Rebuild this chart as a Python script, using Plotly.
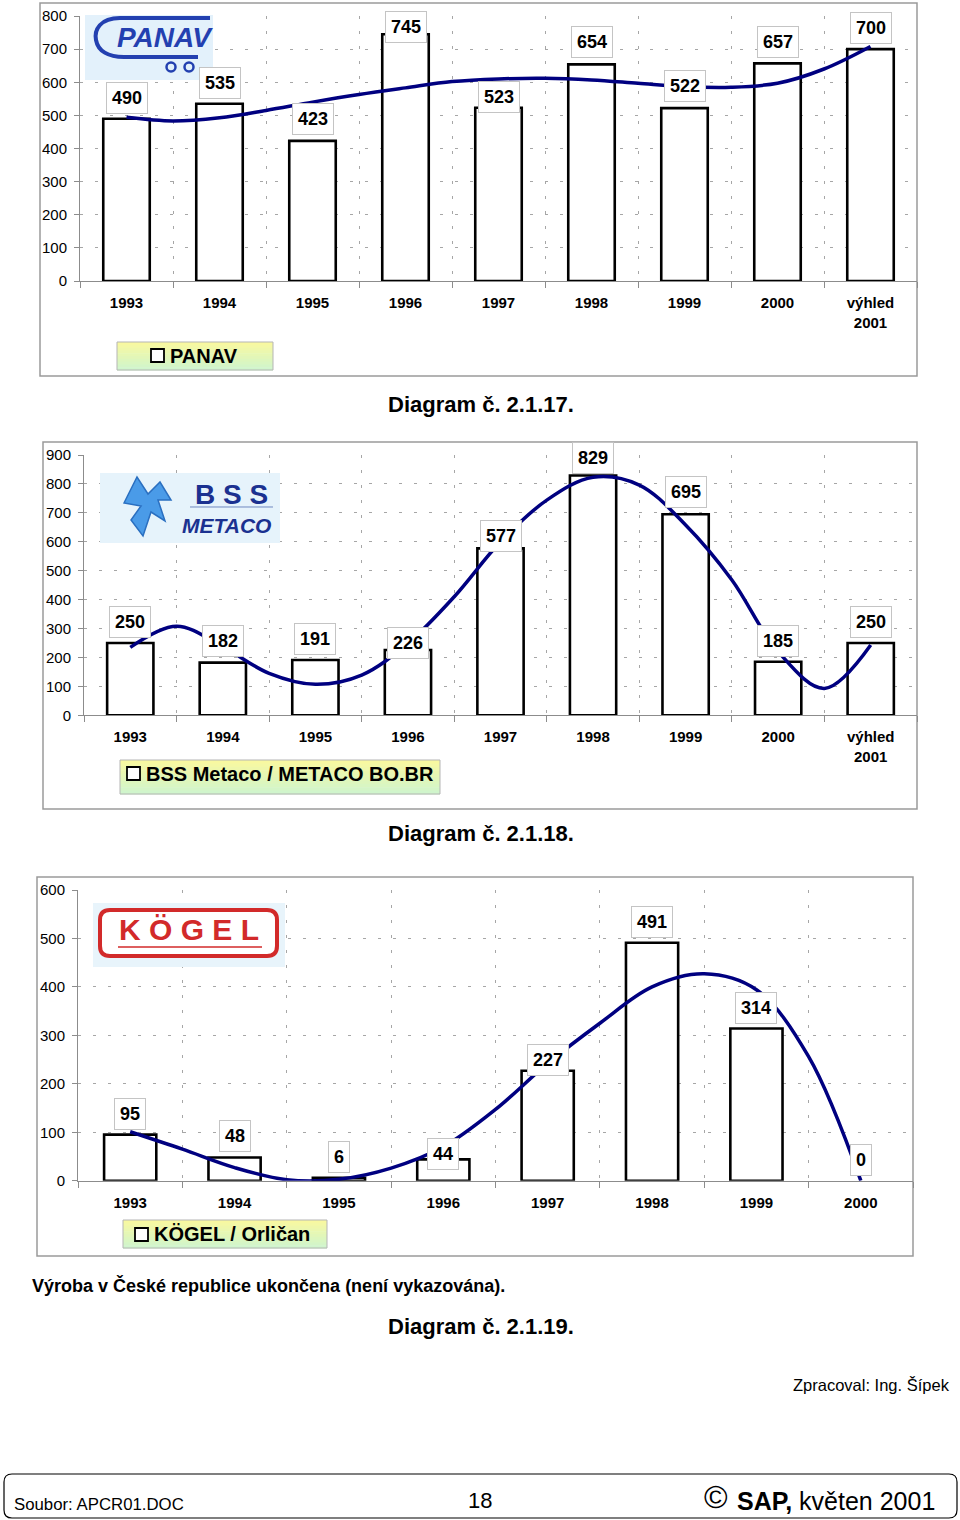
import plotly.graph_objects as go

W, H = 960, 1520
F = "Liberation Sans, Arial, sans-serif"
NARROW = "Liberation Sans Narrow, Arial Narrow, Liberation Sans, Arial, sans-serif"

# ---------------- data ----------------
years_a = ["1993", "1994", "1995", "1996", "1997", "1998", "1999", "2000", "výhled<br>2001"]
years_c = ["1993", "1994", "1995", "1996", "1997", "1998", "1999", "2000"]

panav = [490, 535, 423, 745, 523, 654, 522, 657, 700]
# polynomial trend line (every half category)
panav_trend = [494, 483, 493, 515, 540, 563, 583, 602, 610, 612, 607, 597, 587, 585, 597, 640, 708]

bss = [250, 182, 191, 226, 577, 829, 695, 185, 250]
bss_trend = [235, 308, 237, 145, 107, 139, 249, 410, 600, 744, 823, 796, 658, 468, 220, 93, 243]

kogel = [95, 48, 6, 44, 227, 491, 314, 0]
kogel_trend = [101, 65, 27, 2, 3, 26, 70, 147, 242, 325, 400, 427, 394, 256, 0]

series_names = ["PANAV", "BSS Metaco / METACO BO.BR", "KÖGEL / Orličan"]
captions = ["Diagram č. 2.1.17.", "Diagram č. 2.1.18.", "Diagram č. 2.1.19."]

# ---------------- helpers ----------------
def fx(x):
    return x / W


def fy(y):
    return 1 - y / H


def rect(x0, y0, x1, y1, **kw):
    d = dict(type="rect", xref="paper", yref="paper",
             x0=fx(x0), x1=fx(x1), y0=fy(y1), y1=fy(y0))
    d.update(kw)
    return d


def path(cmds, **kw):
    parts = []
    for c in cmds:
        if isinstance(c, str):
            parts.append(c)
        else:
            parts.append(f"{fx(c[0]):.5f},{fy(c[1]):.5f}")
    d = dict(type="path", xref="paper", yref="paper", path=" ".join(parts))
    d.update(kw)
    return d


def rounded(x0, y0, x1, y1, r, **kw):
    cmds = ["M", (x0 + r, y0), "L", (x1 - r, y0), "Q", (x1, y0), (x1, y0 + r),
            "L", (x1, y1 - r), "Q", (x1, y1), (x1 - r, y1), "L", (x0 + r, y1),
            "Q", (x0, y1), (x0, y1 - r), "L", (x0, y0 + r), "Q", (x0, y0), (x0 + r, y0), "Z"]
    return path(cmds, **kw)


def text(x, y, s, size, xanchor="center", bold=False, color="black", family=F, **kw):
    d = dict(x=fx(x), y=fy(y), xref="paper", yref="paper", text=s, showarrow=False,
             xanchor=xanchor, yanchor="middle",
             font=dict(size=size, color=color, family=family, weight="bold" if bold else "normal"))
    d.update(kw)
    return d


panels = [
    dict(cats=years_a, vals=panav, trend=panav_trend, ymax=800,
         dx=(80, 917), dy=(16, 281),
         shifts=[21, 21, 22, 7, 11, 22, 22, 21, 21],
         box=(40, 3, 917, 376),
         leg=(117, 342, 273, 370), key=(151, 349, 164, 362), leg_tx=168, leg_ty=356,
         cap_y=404),
    dict(cats=years_a, vals=bss, trend=bss_trend, ymax=900,
         dx=(84, 917), dy=(455, 715.3),
         shifts=[21, 22, 21, 7, 12, 18, 22, 21, 21],
         box=(43, 442, 917, 809),
         leg=(120, 760, 440, 794), key=(127, 767, 140, 780), leg_tx=144, leg_ty=774,
         cap_y=833),
    dict(cats=years_c, vals=kogel, trend=kogel_trend, ymax=600,
         dx=(78, 913), dy=(890, 1180.7),
         shifts=[21, 21, 21, 5, 11, 21, 21, 21],
         box=(37, 877, 913, 1256),
         leg=(123, 1220, 327, 1248), key=(135, 1228, 148, 1241), leg_tx=152, leg_ty=1234,
         cap_y=1326),
]

fig = go.Figure()
shapes = []
annotations = []
layout = dict(width=W, height=H,
              margin=dict(l=0, r=0, t=0, b=0, pad=0, autoexpand=False),
              paper_bgcolor="white", plot_bgcolor="white", showlegend=False,
              font=dict(family=F, color="black"))

GRID = "#a6a6a6"
for k, p in enumerate(panels):
    idx = "" if k == 0 else str(k + 1)
    xn, yn = "x" + idx, "y" + idx
    n = len(p["cats"])
    bx0, by0, bx1, by1 = p["box"]
    shapes.append(rect(bx0, by0, bx1, by1, line=dict(color="#9a9a9a", width=1.5),
                       fillcolor="rgba(0,0,0,0)", layer="below"))

    layout["xaxis" + idx] = dict(
        domain=[fx(p["dx"][0]), fx(p["dx"][1])], anchor=yn,
        range=[-0.5, n - 0.5], tickmode="array", tickvals=list(range(n)),
        ticktext=p["cats"], ticks="", showgrid=False, zeroline=False,
        showline=True, linecolor="#8c8c8c", linewidth=1, automargin=False,
        tickfont=dict(size=15, family=F, color="black", weight="bold"),
        ticklabelstandoff=8,
        minor=dict(tickmode="array", tickvals=[i - 0.5 for i in range(n + 1)],
                   ticks="outside", ticklen=6, tickcolor="#8c8c8c", tickwidth=1,
                   showgrid=True, gridcolor=GRID, griddash="3px,12px", gridwidth=1),
        fixedrange=True)
    layout["yaxis" + idx] = dict(
        domain=[fy(p["dy"][1]), fy(p["dy"][0])], anchor=xn,
        range=[0, p["ymax"]], tick0=0, dtick=100, showgrid=True, gridcolor=GRID,
        griddash="3px,12px", gridwidth=1, zeroline=False, showline=True,
        linecolor="#8c8c8c", linewidth=1, ticks="outside", ticklen=5, automargin=False,
        tickcolor="#8c8c8c", tickfont=dict(size=15, family=F, color="black"),
        ticklabelstandoff=4, fixedrange=True)

    fig.add_trace(go.Bar(x=list(range(n)), y=p["vals"], width=0.5, xaxis=xn, yaxis=yn,
                         marker=dict(color="white",
                                     line=dict(color="black",
                                               width=[2.6 if v > 0 else 0 for v in p["vals"]])),
                         name=series_names[k], hoverinfo="skip"))
    fig.add_trace(go.Scatter(x=[j * 0.5 for j in range(len(p["trend"]))], y=p["trend"],
                             xaxis=xn, yaxis=yn, mode="lines",
                             line=dict(color="#000080", width=3.5, shape="spline", smoothing=1.0),
                             hoverinfo="skip", name="trend"))

    for i, v in enumerate(p["vals"]):
        annotations.append(dict(x=i, y=v, xref=xn, yref=yn, text=str(v), showarrow=False,
                                xanchor="center", yanchor="middle", yshift=p["shifts"][i],
                                font=dict(size=18, color="black", family=F, weight="bold"),
                                bgcolor="white", bordercolor="#c4c4c4", borderwidth=1,
                                borderpad=5))

    # legend box with yellow-green gradient
    lx0, ly0, lx1, ly1 = p["leg"]
    nb = 10
    c0, c1 = (248, 248, 160), (208, 245, 204)
    for b in range(nb):
        t = b / (nb - 1)
        col = tuple(round(c0[j] + (c1[j] - c0[j]) * t) for j in range(3))
        hb = (ly1 - ly0) / nb
        shapes.append(rect(lx0, ly0 + b * hb, lx1, ly0 + (b + 1) * hb + 0.6,
                           fillcolor=f"rgb{col}", line=dict(width=0), layer="above"))
    shapes.append(rect(lx0, ly0, lx1, ly1, fillcolor="rgba(0,0,0,0)",
                       line=dict(color="#b5b5b5", width=1), layer="above"))
    kx0, ky0, kx1, ky1 = p["key"]
    shapes.append(rect(kx0, ky0, kx1, ky1, fillcolor="white",
                       line=dict(color="black", width=1.8), layer="above"))
    annotations.append(text(p["leg_tx"], p["leg_ty"], series_names[k], 20,
                            xanchor="left", bold=True))
    annotations.append(text(481, p["cap_y"], captions[k], 22, bold=True))

# ---------------- logos ----------------
BLUE = "#2340b0"
# PANAV
shapes.append(rect(85, 15, 213, 80, fillcolor="#e3f1fb", line=dict(width=0), layer="above"))
shapes.append(path(["M", (210, 18), "L", (120, 18), "C", (100, 18), (94, 30), (96, 40),
                    "C", (98, 51), (108, 57), (124, 57), "L", (198, 57)],
                   line=dict(color=BLUE, width=4), layer="above"))
for cx in (171, 189):
    shapes.append(dict(type="circle", xref="paper", yref="paper",
                       x0=fx(cx - 4.5), x1=fx(cx + 4.5), y0=fy(71.5), y1=fy(62.5),
                       line=dict(color=BLUE, width=2.5), fillcolor="#e3f1fb", layer="above"))
annotations.append(text(165, 37, "<i>PANAV</i>", 28, bold=True, color=BLUE, family=NARROW))

# BSS METACO
shapes.append(rect(100, 473, 280, 543, fillcolor="#e6f3fb", line=dict(width=0), layer="above"))
shapes.append(path(["M", (124, 503), "L", (137, 477), "L", (148, 494), "L", (160, 482),
                    "L", (171, 500), "L", (158, 500), "L", (165, 521), "L", (151, 512),
                    "L", (143, 536), "L", (131, 520), "L", (141, 506), "Z"],
                   fillcolor="#4a9be8", line=dict(color="#2a6fc0", width=1.5), layer="above"))
shapes.append(path(["M", (190, 507), "L", (273, 507)],
                   line=dict(color="#7088c0", width=1), layer="above"))
annotations.append(text(231, 495, "B S S", 28, bold=True, color="#1b3190"))
annotations.append(text(226, 525, "<i>METACO</i>", 21, bold=True, color="#1b3190"))

# KÖGEL
RED = "#d22a2a"
shapes.append(rect(93, 903, 285, 967, fillcolor="#e8f4fb", line=dict(width=0), layer="above"))
shapes.append(rounded(100, 910, 277, 956, 10, fillcolor="white",
                      line=dict(color=RED, width=4), layer="above"))
shapes.append(path(["M", (118, 947), "L", (262, 947)], line=dict(color=RED, width=1.5),
                   layer="above"))
annotations.append(text(189, 930, "K Ö G E L", 30, bold=True, color=RED))

# ---------------- page texts ----------------
annotations.append(text(30, 1285, "Výroba v České republice ukončena (není vykazována).", 18,
                        xanchor="left", bold=True))
annotations.append(text(952, 1385, "Zpracoval: Ing. Šípek", 16.5, xanchor="right"))
shapes.append(rounded(4, 1474, 957, 1518, 8, fillcolor="rgba(0,0,0,0)",
                      line=dict(color="black", width=1.2), layer="above"))
annotations.append(text(12, 1504, "Soubor: APCR01.DOC", 16.8, xanchor="left"))
annotations.append(text(480, 1500, "18", 22))
annotations.append(text(716, 1497, "©", 32))
annotations.append(text(937, 1501, "<b>SAP,</b> květen 2001", 25, xanchor="right"))

layout["shapes"] = shapes
layout["annotations"] = annotations
fig.update_layout(**layout)

pin_page = (
    "var de=document.documentElement, b=document.body;"
    "de.style.margin='0'; de.style.padding='0'; de.style.overflow='hidden';"
    "b.style.margin='0'; b.style.padding='0'; b.style.overflow='hidden';"
    "b.style.width='960px'; b.style.height='1520px';"
    "var g=document.getElementsByClassName('plotly-graph-div')[0];"
    "if(g){g.style.position='fixed'; g.style.left='0px'; g.style.top='0px';}"
)

fig.write_html("out.html", config={"displayModeBar": False}, post_script=pin_page)
